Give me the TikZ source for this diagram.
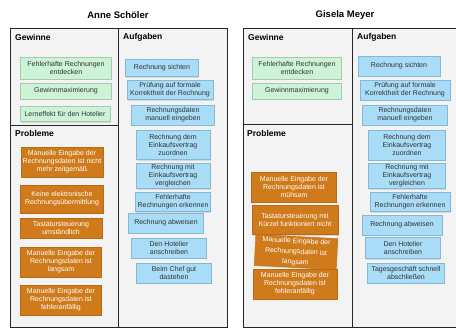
\documentclass[tikz,border=0pt]{standalone}
\usepackage{fontspec}
\setmainfont{Liberation Sans}
\usepackage{tikz}
\usetikzlibrary{shadows}

\definecolor{gewinnfarbe}{HTML}{CDF3D6}
\definecolor{gewinnrand}{HTML}{A8C9B0}
\definecolor{aufgabefarbe}{HTML}{A9DCF6}
\definecolor{aufgaberand}{HTML}{86B8D4}
\definecolor{problemfarbe}{HTML}{CF7B1C}
\definecolor{problemrand}{HTML}{B86A14}
\definecolor{panelfarbe}{HTML}{F3F3F3}

\begin{document}
\begin{tikzpicture}[x=1pt,y=-1pt,
	rahmen/.style={draw=black!85,line width=1pt},
	titel/.style={font=\fontsize{9.5}{11}\selectfont\bfseries},
	kopf/.style={font=\fontsize{8.5}{10}\selectfont\bfseries,anchor=west,inner sep=0pt},
	karte/.style={align=center,inner sep=1.5pt,font=\fontsize{7}{7.9}\selectfont,
		drop shadow={opacity=0.25,shadow xshift=0.8pt,shadow yshift=-1.2pt}},
	gewinn/.style={karte,draw=gewinnrand,fill=gewinnfarbe,text=black!80},
	aufgabe/.style={karte,draw=aufgaberand,fill=aufgabefarbe,text=black!80},
	problem/.style={karte,draw=problemrand,fill=problemfarbe,text=white}]
	\useasboundingbox (0,0) rectangle (456,329);
	
	% Anne Schoeler
	\fill[panelfarbe] (10,29) rectangle (227,327);
	\draw[rahmen] (10,29) rectangle (227,327);
	\draw[rahmen] (118,29) -- (118,327);
	\draw[rahmen] (10,126) -- (118,126);
	
	\node[titel] (titelA) at (118,15) {Anne Schöler};
	\node[kopf] (gewinneA) at (15,37) {Gewinne};
	\node[kopf] (aufgabenA) at (123,37) {Aufgaben};
	\node[kopf] (problemeA) at (15,133) {Probleme};
	
	\node[gewinn,minimum width=91pt,minimum height=22pt] (gA1) at (66,68) {Fehlerhafte Rechnungen\\entdecken};
	\node[gewinn,minimum width=91pt,minimum height=16pt] (gA2) at (66,91) {Gewinnmaximierung};
	\node[gewinn,minimum width=90pt,minimum height=15pt] (gA3) at (65,114) {Lerneffekt für den Hotelier};
	
	\node[problem,minimum width=81pt,minimum height=30pt] (pA1) at (62,162) {Manuelle Eingabe der\\Rechnungsdaten ist nicht\\mehr zeitgemäß};
	\node[problem,minimum width=83pt,minimum height=28pt] (pA2) at (62,199) {Keine elektronische\\Rechnungsübermittlung};
	\node[problem,minimum width=82pt,minimum height=20pt] (pA3) at (61,228) {Tastatursteuerung\\umständlich};
	\node[problem,minimum width=81pt,minimum height=30pt] (pA4) at (61,262) {Manuelle Eingabe der\\Rechnungsdaten ist\\langsam};
	\node[problem,minimum width=81pt,minimum height=30pt] (pA5) at (61,300) {Manuelle Eingabe der\\Rechnungsdaten ist\\fehleranfällig};
	
	\node[aufgabe,minimum width=73pt,minimum height=17pt] (aA1) at (162,68) {Rechnung sichten};
	\node[aufgabe,minimum width=86pt,minimum height=19pt] (aA2) at (170,90) {Prüfung auf formale\\Korrektheit der Rechnung};
	\node[aufgabe,minimum width=83pt,minimum height=20pt] (aA3) at (173,115) {Rechnungsdaten\\manuell eingeben};
	\node[aufgabe,minimum width=74pt,minimum height=29pt] (aA4) at (173,145) {Rechnung dem\\Einkaufsvertrag\\zuordnen};
	\node[aufgabe,minimum width=74pt,minimum height=25pt] (aA5) at (173,176) {Rechnung mit\\Einkaufsvertrag\\vergleichen};
	\node[aufgabe,minimum width=75pt,minimum height=19pt] (aA6) at (173,202) {Fehlerhafte\\Rechnungen erkennen};
	\node[aufgabe,minimum width=75pt,minimum height=20pt] (aA7) at (166,223) {Rechnung abweisen};
	\node[aufgabe,minimum width=75pt,minimum height=20pt] (aA8) at (169,248) {Den Hotelier\\anschreiben};
	\node[aufgabe,minimum width=75pt,minimum height=20pt] (aA9) at (174,273) {Beim Chef gut\\dastehen};
	
	% Gisela Meyer
	\fill[panelfarbe] (243,29) rectangle (456,327);
	\draw[rahmen] (456,29) -- (243,29) -- (243,327) -- (456,327);
	\draw[rahmen] (352,29) -- (352,327);
	\draw[rahmen] (243,125) -- (352,125);
	
	\node[titel] (titelB) at (345,15) {Gisela Meyer};
	\node[kopf] (gewinneB) at (248,37) {Gewinne};
	\node[kopf] (aufgabenB) at (357,37) {Aufgaben};
	\node[kopf] (problemeB) at (247,133) {Probleme};
	
	\node[gewinn,minimum width=89pt,minimum height=22pt] (gB1) at (297,68) {Fehlerhafte Rechnungen\\entdecken};
	\node[gewinn,minimum width=89pt,minimum height=16pt] (gB2) at (297,91) {Gewinnmaximierung};
	
	\node[problem,minimum width=85pt,minimum height=30pt] (pB1) at (294,187) {Manuelle Eingabe der\\Rechnungsdaten ist\\mühsam};
	\node[problem,minimum width=86pt,minimum height=29pt] (pB2) at (295,220) {Tastatursteuerung mit\\Kürzel funktioniert nicht};
	\node[problem,minimum width=82pt,minimum height=31pt,rotate=-3,font=\fontsize{7}{10.5}\selectfont] (pB3) at (296,252) {Manuelle Eingabe der\\Rechnungsdaten ist\\langsam};
	\node[problem,minimum width=84pt,minimum height=30pt] (pB4) at (295,284) {Manuelle Eingabe der\\Rechnungsdaten ist\\fehleranfällig};
	
	\node[aufgabe,minimum width=82pt,minimum height=20pt] (aB1) at (399,66) {Rechnung sichten};
	\node[aufgabe,minimum width=90pt,minimum height=20pt] (aB2) at (405,90) {Prüfung auf formale\\Korrektheit der Rechnung};
	\node[aufgabe,minimum width=85pt,minimum height=20pt] (aB3) at (405,115) {Rechnungsdaten\\manuell eingeben};
	\node[aufgabe,minimum width=77pt,minimum height=30pt] (aB4) at (407,145) {Rechnung dem\\Einkaufsvertrag\\zuordnen};
	\node[aufgabe,minimum width=77pt,minimum height=25pt] (aB5) at (407,176) {Rechnung mit\\Einkaufsvertrag\\vergleichen};
	\node[aufgabe,minimum width=80pt,minimum height=19pt] (aB6) at (410,202) {Fehlerhafte\\Rechnungen erkennen};
	\node[aufgabe,minimum width=80pt,minimum height=20pt] (aB7) at (402,225) {Rechnung abweisen};
	\node[aufgabe,minimum width=75pt,minimum height=21pt] (aB8) at (403,248) {Den Hotelier\\anschreiben};
	\node[aufgabe,minimum width=77pt,minimum height=20pt] (aB9) at (406,273) {Tagesgeschäft schnell\\abschließen};
\end{tikzpicture}
\end{document}
